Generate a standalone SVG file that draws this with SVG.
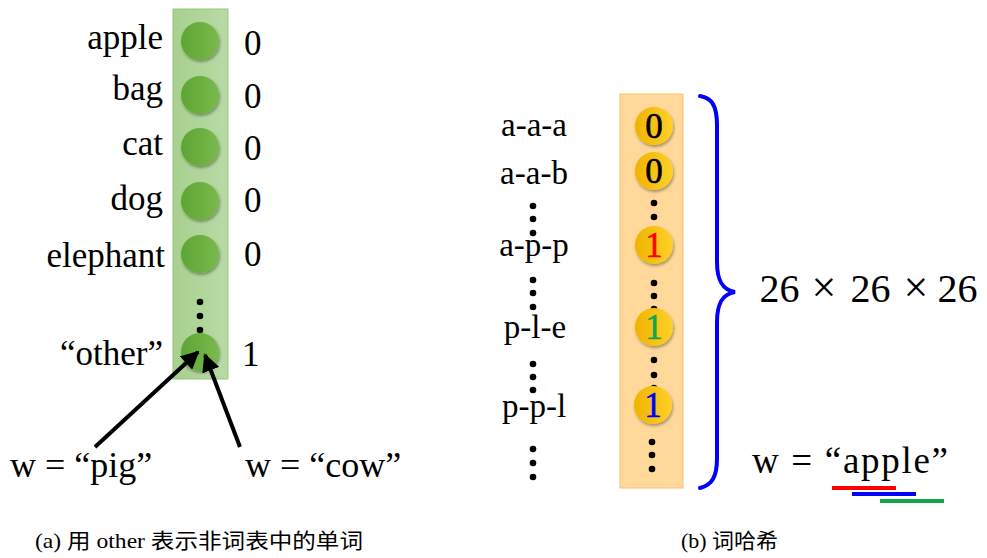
<svg xmlns="http://www.w3.org/2000/svg" width="987" height="558" viewBox="0 0 987 558">
<defs>
<linearGradient id="gg" x1="0" y1="0" x2="1" y2="0">
<stop offset="0" stop-color="#5ea535"/>
<stop offset="1" stop-color="#79b94b"/>
</linearGradient>
<linearGradient id="og" x1="0" y1="0" x2="1" y2="0">
<stop offset="0" stop-color="#eeb400"/>
<stop offset="1" stop-color="#ffd02a"/>
</linearGradient>
<linearGradient id="rg" x1="0" y1="0" x2="1" y2="0">
<stop offset="0" stop-color="#a8d08e"/>
<stop offset="1" stop-color="#b8dba6"/>
</linearGradient>
<filter id="sh" x="-30%" y="-30%" width="160%" height="160%">
<feDropShadow dx="1" dy="2" stdDeviation="1.5" flood-color="#000" flood-opacity="0.35"/>
</filter>
<marker id="ah" viewBox="0 0 10 10" refX="9" refY="5" markerWidth="4.5" markerHeight="4.5" orient="auto" markerUnits="strokeWidth">
<path d="M0,0 L10,5 L0,10 z" fill="#000"/>
</marker>
</defs>
<style>
.t{font-family:"Liberation Serif","Times New Roman",serif;fill:#000}
.lbl{font-size:35px}
.rl{font-size:33px;text-anchor:middle}
.g{fill:url(#gg);filter:url(#sh)}
.o{fill:url(#og);filter:url(#sh)}
.d{fill:#000}
.dig{font-size:35px;text-anchor:middle;stroke-width:0.6px}
.cap{font-family:"Liberation Serif","Noto Sans CJK SC",serif;font-size:21px;fill:#000}
</style>
<rect width="987" height="558" fill="#fff"/>

<g id="left-vector">
<rect x="173" y="9" width="55" height="370" fill="url(#rg)" stroke="#98c57e" stroke-width="1"/>
</g>
<g id="node-apple">
<circle class="g" cx="200" cy="41" r="19"/>
<text class="t lbl" x="163" y="49" text-anchor="end">apple</text>
<text class="t lbl" x="244" y="55">0</text>
</g>
<g id="node-bag">
<circle class="g" cx="200" cy="95" r="19"/>
<text class="t lbl" x="163" y="100" text-anchor="end">bag</text>
<text class="t lbl" x="244" y="108">0</text>
</g>
<g id="node-cat">
<circle class="g" cx="200" cy="147" r="19"/>
<text class="t lbl" x="163" y="155" text-anchor="end">cat</text>
<text class="t lbl" x="244" y="160">0</text>
</g>
<g id="node-dog">
<circle class="g" cx="200" cy="201" r="19"/>
<text class="t lbl" x="163" y="210" text-anchor="end">dog</text>
<text class="t lbl" x="244" y="212">0</text>
</g>
<g id="node-elephant">
<circle class="g" cx="200" cy="254" r="19"/>
<text class="t lbl" x="165" y="267" text-anchor="end">elephant</text>
<text class="t lbl" x="244" y="266">0</text>
</g>
<g id="left-dots">
<circle class="d" cx="200" cy="302" r="3.3"/>
<circle class="d" cx="200" cy="316" r="3.3"/>
<circle class="d" cx="200" cy="330" r="3.3"/>
</g>
<g id="node-other">
<circle class="g" cx="200" cy="352" r="19"/>
<text class="t lbl" x="163" y="365" text-anchor="end">“other”</text>
<text class="t lbl" x="242" y="366">1</text>
</g>
<g id="node-pig">
<text class="t" font-size="36" x="10" y="477">w = “pig”</text>
</g>
<g id="node-cow">
<text class="t" font-size="36" x="245" y="477">w = “cow”</text>
</g>
<g id="connectors">
<line x1="95" y1="447" x2="198" y2="352" stroke="#000" stroke-width="4" marker-end="url(#ah)"/>
<line x1="240" y1="447" x2="205" y2="355" stroke="#000" stroke-width="4" marker-end="url(#ah)"/>
</g>

<g id="right-vector">
<rect x="620" y="94" width="63" height="394" fill="#ffd89a" stroke="#f3c46e" stroke-width="1"/>
</g>
<g id="node-aaa">
<text class="t rl" x="534" y="136">a-a-a</text>
<circle class="o" cx="654" cy="126" r="19"/>
<text class="t dig" x="654" y="138" stroke="#000">0</text>
</g>
<g id="node-aab">
<text class="t rl" x="534" y="184">a-a-b</text>
<circle class="o" cx="654" cy="171" r="19"/>
<text class="t dig" x="654" y="183" stroke="#000">0</text>
</g>
<g id="dots-1">
<circle class="d" cx="533" cy="206" r="3.3"/>
<circle class="d" cx="533" cy="219" r="3.3"/>
<circle class="d" cx="533" cy="233" r="3.3"/>
<circle class="d" cx="654" cy="203" r="3.3"/>
<circle class="d" cx="654" cy="217" r="3.3"/>
<circle class="d" cx="654" cy="230" r="3.3"/>
</g>
<g id="node-app">
<text class="t rl" x="534" y="256">a-p-p</text>
<circle class="o" cx="654" cy="245" r="19"/>
<text class="t dig" x="654" y="257" stroke="#ff0000" style="fill:#ff0000">1</text>
</g>
<g id="dots-2">
<circle class="d" cx="533" cy="280" r="3.3"/>
<circle class="d" cx="533" cy="293" r="3.3"/>
<circle class="d" cx="533" cy="307" r="3.3"/>
<circle class="d" cx="654" cy="283" r="3.3"/>
<circle class="d" cx="654" cy="296" r="3.3"/>
<circle class="d" cx="654" cy="309" r="3.3"/>
</g>
<g id="node-ple">
<text class="t rl" x="535" y="338">p-l-e</text>
<circle class="o" cx="654" cy="327" r="19"/>
<text class="t dig" x="654" y="339" stroke="#12a64a" style="fill:#12a64a">1</text>
</g>
<g id="dots-3">
<circle class="d" cx="533" cy="364" r="3.3"/>
<circle class="d" cx="533" cy="377" r="3.3"/>
<circle class="d" cx="533" cy="390" r="3.3"/>
<circle class="d" cx="654" cy="360" r="3.3"/>
<circle class="d" cx="654" cy="375" r="3.3"/>
<circle class="d" cx="654" cy="388" r="3.3"/>
</g>
<g id="node-ppl">
<text class="t rl" x="534" y="417">p-p-l</text>
<circle class="o" cx="653" cy="405" r="19"/>
<text class="t dig" x="653" y="417" stroke="#0000ff" style="fill:#0000ff">1</text>
</g>
<g id="dots-4">
<circle class="d" cx="533" cy="449" r="3.3"/>
<circle class="d" cx="533" cy="463" r="3.3"/>
<circle class="d" cx="533" cy="477" r="3.3"/>
<circle class="d" cx="652" cy="442" r="3.3"/>
<circle class="d" cx="652" cy="455" r="3.3"/>
<circle class="d" cx="652" cy="469" r="3.3"/>
</g>

<g id="brace">
<path d="M700,96 C712,98 717,106 717,125 L717,262 C717,280 722,290 735,292 C722,294 717,304 717,322 L717,458 C717,477 712,485 700,488" fill="none" stroke="#0000ff" stroke-width="4" stroke-linecap="round"/>
</g>
<g id="size-label">
<text class="t" font-size="40" x="779.5" y="302" text-anchor="middle">26</text>
<text class="t" font-size="44" x="824" y="302" text-anchor="middle">×</text>
<text class="t" font-size="40" x="870.5" y="302" text-anchor="middle">26</text>
<text class="t" font-size="44" x="916" y="302" text-anchor="middle">×</text>
<text class="t" font-size="40" x="957.5" y="302" text-anchor="middle">26</text>
</g>
<g id="node-apple-w">
<text class="t" font-size="37" x="752" y="473" textLength="196" lengthAdjust="spacing">w = “apple”</text>
<rect x="832" y="486" width="64" height="4" fill="#ff0000"/>
<rect x="852" y="492" width="64" height="4" fill="#0000ff"/>
<rect x="880" y="499" width="64" height="4" fill="#12a64a"/>
</g>

<g id="captions">
<text class="cap" x="35" y="548" textLength="328" lengthAdjust="spacingAndGlyphs">(a) 用 other 表示非词表中的单词</text>
<text class="cap" x="681" y="548" textLength="97" lengthAdjust="spacingAndGlyphs">(b) 词哈希</text>
</g>
</svg>
